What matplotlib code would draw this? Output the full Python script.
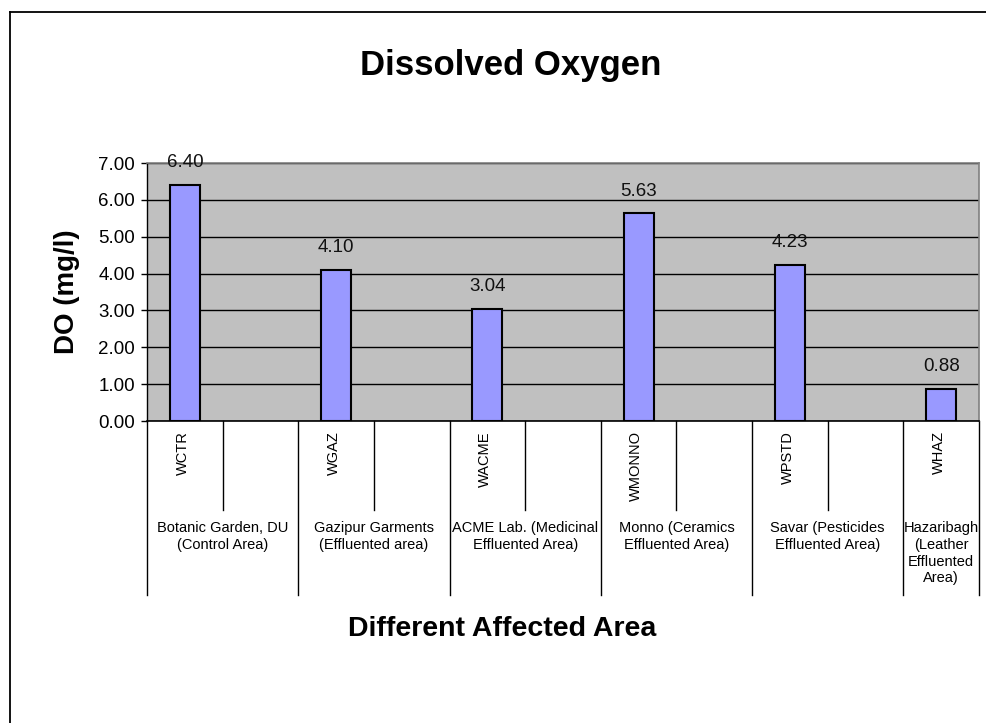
import matplotlib
matplotlib.use("Agg")
import matplotlib.pyplot as plt
from matplotlib.lines import Line2D
from matplotlib.ticker import FormatStrFormatter

plt.rcParams["font.family"] = ["Liberation Sans", "DejaVu Sans"]

# Sample codes (one bar each) and dissolved oxygen readings in mg/l
codes = ["WCTR", "WGAZ", "WACME", "WMONNO", "WPSTD", "WHAZ"]
do_values = [6.40, 4.10, 3.04, 5.63, 4.23, 0.88]
areas = [
    "Botanic Garden, DU\n(Control Area)",
    "Gazipur Garments\n(Effluented area)",
    "ACME Lab. (Medicinal\nEffluented Area)",
    "Monno (Ceramics\nEffluented Area)",
    "Savar (Pesticides\nEffluented Area)",
    "Hazaribagh\n(Leather\nEffluented\nArea)",
]
y_ticks = [0, 1, 2, 3, 4, 5, 6, 7]

W, H = 986, 723
fig = plt.figure(figsize=(W / 100, H / 100), dpi=100)
fig.patch.set_facecolor("white")

# plot area in pixel terms
left_px, right_px, top_px, bottom_px = 147, 979, 163, 421
ax = fig.add_axes([left_px / W, 1 - bottom_px / H,
                   (right_px - left_px) / W, (bottom_px - top_px) / H])
ax.set_facecolor("#C0C0C0")

# each sample occupies a slot followed by an empty slot (the last one has none)
n_slots = 2 * len(codes) - 1
positions = [2 * i for i in range(len(codes))]

ax.set_xlim(-0.5, n_slots - 0.5)
ax.set_ylim(0, 7)
ax.set_yticks(y_ticks)
ax.yaxis.set_major_formatter(FormatStrFormatter("%.2f"))
ax.grid(axis="y", color="black", linewidth=1.0, zorder=1)
ax.set_axisbelow(True)

bars = ax.bar(positions, do_values, width=0.4, color="#9999FF",
              edgecolor="black", linewidth=1.5, zorder=3)
for x, v in zip(positions, do_values):
    ax.annotate(f"{v:.2f}", xy=(x, v), xytext=(0, 10), textcoords="offset points",
                ha="center", va="bottom", fontsize=13.5, color="#111111")

ax.tick_params(axis="y", direction="out", length=4.5, width=1, labelsize=13.5,
               pad=4, colors="black")
ax.tick_params(axis="x", bottom=False, labelbottom=False)
for side in ("top", "right"):
    ax.spines[side].set_color("#808080")
    ax.spines[side].set_linewidth(1.2)
ax.spines["left"].set_color("black")
ax.spines["bottom"].set_color("black")
ax.spines["left"].set_linewidth(1.0)
ax.spines["bottom"].set_linewidth(1.2)

# multi-level category axis drawn beneath the plot
axh = bottom_px - top_px
trans = ax.get_xaxis_transform()
short_y = -(510 - bottom_px) / axh
long_y = -(595 - bottom_px) / axh
group_edges = [-0.5] + [2 * i + 1.5 for i in range(len(codes) - 1)] + [n_slots - 0.5]
inner_edges = [2 * i + 0.5 for i in range(len(codes) - 1)]
for xe in group_edges:
    ax.add_line(Line2D([xe, xe], [0, long_y], transform=trans, color="black",
                       linewidth=1.0, clip_on=False))
for xe in inner_edges:
    ax.add_line(Line2D([xe, xe], [0, short_y], transform=trans, color="black",
                       linewidth=1.0, clip_on=False))

code_y = -(431 - bottom_px) / axh
for x, c in zip(positions, codes):
    ax.text(x - 0.03, code_y, c, transform=trans, rotation=90, ha="center", va="top",
            fontsize=10.5)

area_y = -(521 - bottom_px) / axh
for i, a in enumerate(areas):
    lo = group_edges[i]
    hi = group_edges[i + 1]
    ax.text((lo + hi) / 2, area_y, a, transform=trans, ha="center", va="top",
            fontsize=10.5, linespacing=1.25, multialignment="center")

# titles
fig.text(510.5 / W, 1 - 75 / H, "Dissolved Oxygen", ha="center", va="baseline",
         fontsize=25, fontweight="bold")
fig.text(502.5 / W, 1 - 636 / H, "Different Affected Area", ha="center",
         va="baseline", fontsize=20.5, fontweight="bold")
fig.text(67 / W, 1 - 292 / H, "DO (mg/l)", ha="center", va="center", rotation=90,
         fontsize=20, fontweight="bold")

# chart frame (top and left edges)
fig.add_artist(Line2D([9.5 / W, 9.5 / W], [0, 1 - 11.5 / H], transform=fig.transFigure,
                      color="black", linewidth=1.3))
fig.add_artist(Line2D([9.5 / W, 1], [1 - 11.5 / H, 1 - 11.5 / H],
                      transform=fig.transFigure, color="black", linewidth=1.3))

fig.savefig("out.png", dpi=100, facecolor="white")
